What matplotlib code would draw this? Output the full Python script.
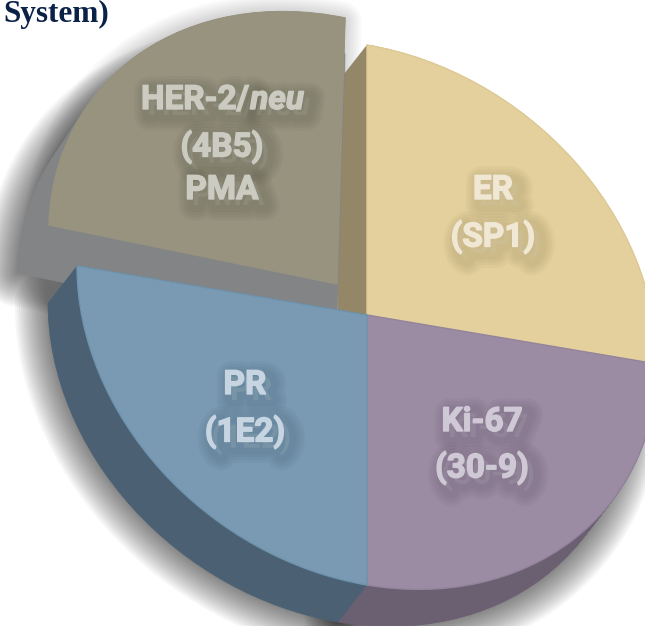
''' Antibody panel pie, drawn with a fake 3D depth '''

import matplotlib
matplotlib.use('Agg')
import matplotlib.pyplot as plt
import matplotlib.patheffects as pe
from matplotlib.patches import Wedge
from matplotlib.transforms import Affine2D
import numpy as np

# Chart data, slices run counter clockwise from the right
markers = ['ER', 'HER-2/', 'PR', 'Ki-67']
clones = ['(SP1)', '(4B5)', '(1E2)', '(30-9)']
shares = [25, 25, 25, 25]
title_tail = 'System)'

top_colors = ['#e3d09c', '#97937f', '#799ab2', '#9b8ba3']
edge_colors = ['#dfcb96', '#97937f', '#6f94ae', '#93839c']
side_colors = ['#948768', '#838486', '#4b6173', '#6b5f72']
text_colors = ['#f0e8d4', '#cbcbc2', '#c6d5e1', '#cfc9d6']
shadow_colors = ['#6f6240', '#3c3b30', '#35495c', '#483c54']

W, H = 645, 626
# unit circle -> pixels, leaning ellipse of the perspective view
BASE = np.array([[290, 0, 367], [49, -270, 315], [0, 0, 1]], dtype=float)
LIFTED = np.array([[288, 8, 337], [59, -266, 284], [0, 0, 1]], dtype=float)
DEPTHS = [(-29, 37), (-32, 48), (-29, 37), (-29, 37)]
NARROW = ['Roboto']

fig = plt.figure(figsize=(W / 100, H / 100), dpi=100)
ax = fig.add_axes([0, 0, 1, 1])
wedges, _ = ax.pie(shares, startangle=0, colors=top_colors, radius=1)
ax.set_aspect('auto')
ax.set_xlim(0, W)
ax.set_ylim(H, 0)
ax.axis('off')


def slice_transform(i, dx=0, dy=0):
    matrix = LIFTED if i == 1 else BASE
    return Affine2D(matrix.copy()).translate(dx, dy) + ax.transData


def add_copy(i, dx, dy, z, **style):
    w = wedges[i]
    patch = Wedge((0, 0), 1, w.theta1, w.theta2, **style)
    ax.add_patch(patch)
    patch.set_transform(slice_transform(i, dx, dy))
    patch.set_zorder(z)
    return patch


# soft drop shadows, outline only so the fall-off stays smooth
for i in [1, 2, 3]:
    dx, dy = DEPTHS[i]
    for k in range(16):
        add_copy(i, dx, dy, 1, facecolor='none', edgecolor='black',
                 linewidth=(k + 1) * 3.0, alpha=0.035, joinstyle='round')
# the lifted slice also throws a faint glow along its own arc
for k in range(10):
    add_copy(1, -4, 4, 1, facecolor='none', edgecolor='black',
             linewidth=(k + 1) * 3.0, alpha=0.018, joinstyle='round')

# side walls, PR goes over Ki-67 so their seam follows the depth direction
depth_steps = 40
for i, z in [(0, 2), (1, 3), (3, 4), (2, 5)]:
    for k in range(depth_steps + 1):
        f = k / depth_steps
        add_copy(i, DEPTHS[i][0] * f, DEPTHS[i][1] * f, z, facecolor=side_colors[i],
                 edgecolor=side_colors[i], linewidth=0.5)
# wall under the lifted slice reaches down to the PR edge
add_copy(1, 0, 36, 3, facecolor=side_colors[1], edgecolor=side_colors[1], linewidth=0.5)

# top faces
for i, z in [(0, 6), (3, 7), (2, 8), (1, 9)]:
    wedges[i].set_transform(slice_transform(i))
    wedges[i].set_edgecolor(edge_colors[i])
    wedges[i].set_linewidth(1.0)
    wedges[i].set_zorder(z)


def blur_effects(i):
    effects = []
    for lw in [22, 18, 14, 10]:
        effects.append(pe.Stroke(linewidth=lw, foreground=shadow_colors[i], alpha=0.05,
                                 offset=(4.5, -4.5)))
    # Roboto comes out light here, so thicken the glyphs a little
    effects.append(pe.Stroke(linewidth=1.0, foreground=text_colors[i]))
    effects.append(pe.Normal())
    return effects


def label(x, y, txt, i, style='normal'):
    return ax.text(x, y, txt, ha='center', va='center', fontsize=24, fontweight='bold',
                   fontstyle=style, family=NARROW, color=text_colors[i], zorder=12,
                   path_effects=blur_effects(i))


label(493, 190, markers[0], 0)
label(493, 237, clones[0], 0)
label(245, 385, markers[2], 2)
label(245, 432, clones[2], 2)
label(482, 422, markers[3], 3)
label(482, 468, clones[3], 3)

# HER-2/neu mixes upright and italic, so it is placed from two pieces
renderer = fig.canvas.get_renderer()
left = label(0, 100, markers[1], 1)
right = label(0, 100, 'neu', 1, style='italic')
left.set_ha('left')
right.set_ha('left')
w_left = left.get_window_extent(renderer).width
w_right = right.get_window_extent(renderer).width
x0 = 222 - (w_left + w_right) / 2
left.set_x(x0)
right.set_x(x0 + w_left + 1)
label(222, 147, clones[1], 1)
label(222, 190, 'PMA', 1)

ax.text(3, 22, title_tail, ha='left', va='baseline', fontsize=22.5, fontweight='bold',
        family='Liberation Serif', color='#0b2247', zorder=12)

fig.savefig('out.png', dpi=100, facecolor='white')
